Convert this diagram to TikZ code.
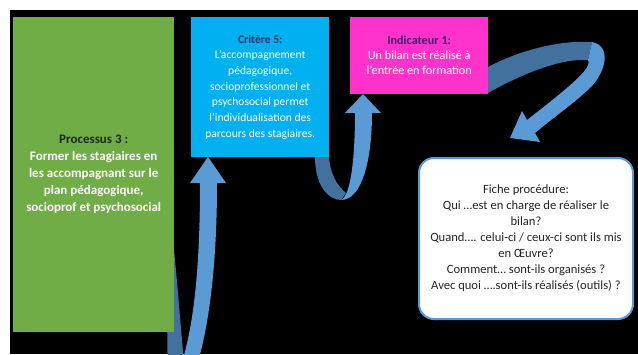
\documentclass[tikz,border=0pt]{standalone}
\usepackage{fontspec}
\setmainfont{Carlito}
\definecolor{procgreen}{HTML}{70AD47}
\definecolor{critblue}{HTML}{00B0F0}
\definecolor{indpink}{HTML}{FF33CC}
\definecolor{ribbonlight}{HTML}{5B9BD5}
\definecolor{ribbondark}{HTML}{41719C}
\definecolor{headnavy}{HTML}{1F3864}
\definecolor{headpurple}{HTML}{3B1C6E}
\definecolor{headdark}{HTML}{1B2A10}
\definecolor{fichetext}{HTML}{262626}
\begin{document}
\begin{tikzpicture}[x=1pt, y=-1pt,
	box/.style={shape=rectangle, anchor=north west, inner sep=0pt, align=center, text=white}]
	\useasboundingbox (0,0) rectangle (638,354);
	\clip (0,0) rectangle (638,354);
	\fill[black] (10,10) rectangle (638,354);

	% back strands of the ribbons
	\fill[ribbondark] (160,250) .. controls (170,300) and (166,340) .. (168,362) -- (184,362) .. controls (180,320) and (178,290) .. (174,250) -- cycle;

	\node[box, fill=procgreen, minimum width=161, minimum height=315,
		font=\bfseries\fontsize{13}{17}\selectfont]  (proc) at (13,17)  {\textcolor{headdark}{Processus 3 :}\\Former les stagiaires en\\les accompagnant sur le\\plan pédagogique,\\socioprof et psychosocial};
	\node[box, fill=critblue, minimum width=138, minimum height=140,
		font=\fontsize{11.6}{15.7}\selectfont]   (crit) at (191,17) {\textcolor{headnavy}{\bfseries Critère 5:}\\L’accompagnement\\pédagogique,\\socioprofessionnel et\\psychosocial permet\\l’individualisation des\\parcours des stagiaires.};
	\node[box, fill=indpink, minimum width=138, minimum height=77,
		font=\fontsize{12.2}{15}\selectfont]     (ind)  at (350,17) {\textcolor{headpurple}{\bfseries Indicateur 1:}\\Un bilan est réalisé à\\l’entrée en formation};
	\node[box, fill=white, draw=ribbonlight, line width=2, rounded corners=15, text=fichetext,
		minimum width=214, minimum height=161, font=\fontsize{12.6}{16}\selectfont] (fiche) at (418,157) {Fiche procédure:\\Qui …est en charge de réaliser le\\bilan?\\Quand…. celui-ci / ceux-ci sont ils mis\\en Œuvre?\\Comment… sont-ils organisés ?\\Avec quoi ….sont-ils réalisés (outils) ?};

	\coordinate (tipA) at (208,157);
	\coordinate (tipB) at (363,94);
	\coordinate (tipC) at (510,138);

	% proc -> crit
	\fill[ribbonlight] (200,183) -- (190,183) -- (tipA) -- (226,183) -- (217,183) .. controls (217,260) and (210,320) .. (198,362) -- (182,362) .. controls (195,320) and (200,260) .. (200,183) -- cycle;

	% crit -> ind
	\fill[ribbondark] (315,157) .. controls (315,185) and (328,200) .. (341,200) -- (346,193) .. controls (336,185) and (330,172) .. (329,157) -- cycle;
	\fill[ribbonlight] (341,200) .. controls (352,195) and (355,150) .. (355,113) -- (345,113) -- (tipB) -- (381,113) -- (372,113) .. controls (372,160) and (362,200) .. (341,200) -- cycle;

	% ind -> fiche
	\fill[ribbondark] (488,67) .. controls (520,50) and (560,40) .. (592,42) -- (588,60) .. controls (560,58) and (520,75) .. (488,93) -- cycle;
	\fill[ribbonlight] (592,42) .. controls (612,46) and (606,72) .. (590,88) .. controls (572,105) and (550,120) .. (535,133) -- (540,142) -- (tipC) -- (522,111) -- (527,120) .. controls (545,106) and (568,88) .. (580,76) .. controls (588,68) and (590,62) .. (588,60) -- cycle;
\end{tikzpicture}
\end{document}
